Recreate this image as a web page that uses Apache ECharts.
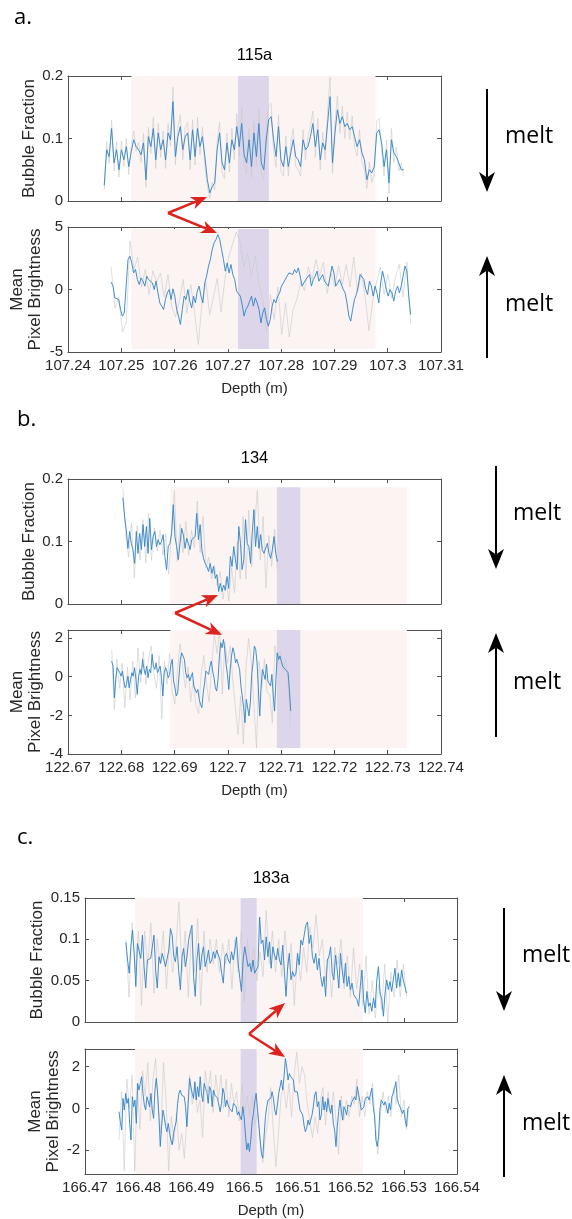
<!DOCTYPE html>
<html><head><meta charset="utf-8">
<script src="https://cdn.jsdelivr.net/npm/echarts@6/dist/echarts.min.js"></script>
<style>html,body{margin:0;padding:0;background:#fff}#c{width:572px;height:1219px}</style>
</head><body><div id="c"></div>
<script>
// ---------- tick labels ----------
const xTicksA = [107.24,107.25,107.26,107.27,107.28,107.29,107.30,107.31];
const xTicksB = [122.67,122.68,122.69,122.70,122.71,122.72,122.73,122.74];
const xTicksC = [166.47,166.48,166.49,166.50,166.51,166.52,166.53,166.54];
const yTicksBubbleAB = [0,0.1,0.2];
const yTicksBubbleC = [0,0.05,0.1,0.15];
const yTicksBrightA = [-5,0,5];
const yTicksBrightB = [-4,-2,0,2];
const yTicksBrightC = [-2,0,2];
const titles = ['115a','134','183a'];

// ---------- depth spans of the records (m) ----------
const spanBubbleA = [107.2468,107.3030];
const spanBrightA = [107.2481,107.3043];
const spanBubbleB = [122.6803,122.7093];
const spanBrightB = [122.6782,122.7118];
const spanBubbleC = [166.4777,166.5305];
const spanBrightC = [166.4764,166.5310];

// ---------- shaded depth intervals ----------
const pinkA = [107.2519,107.2977], purpleA = [107.2719,107.2777];
const pinkB = [122.6892,122.7336], purpleB = [122.7092,122.7136];
const pinkC = [166.4794,166.5223], purpleC = [166.4993,166.5023];

// ---------- 115a ----------
const bubbleA = [0.025,0.082,0.071,0.116,0.061,0.082,0.050,0.082,0.066,0.087,0.055,0.079,0.098,0.087,0.082,0.074,0.093,0.034,0.103,0.087,0.116,0.066,0.109,0.082,0.098,0.066,0.109,0.098,0.159,0.071,0.103,0.119,0.082,0.103,0.109,0.066,0.114,0.071,0.116,0.087,0.103,0.071,0.034,0.013,0.023,0.029,0.082,0.109,0.061,0.050,0.093,0.061,0.098,0.082,0.119,0.087,0.124,0.074,0.061,0.098,0.055,0.109,0.071,0.124,0.061,0.050,0.098,0.130,0.135,0.098,0.071,0.119,0.066,0.055,0.087,0.055,0.077,0.098,0.071,0.066,0.055,0.098,0.082,0.087,0.103,0.124,0.087,0.114,0.066,0.093,0.082,0.124,0.167,0.061,0.109,0.146,0.124,0.135,0.119,0.124,0.114,0.119,0.103,0.087,0.098,0.077,0.066,0.034,0.050,0.045,0.055,0.109,0.114,0.093,0.055,0.082,0.029,0.098,0.077,0.071,0.061,0.050,0.050];
const bubbleARaw = [0.018,0.095,0.060,0.130,0.048,0.095,0.038,0.096,0.055,0.100,0.042,0.090,0.112,0.080,0.094,0.062,0.108,0.022,0.118,0.076,0.134,0.052,0.124,0.070,0.112,0.052,0.124,0.088,0.182,0.058,0.117,0.138,0.066,0.118,0.126,0.050,0.130,0.058,0.134,0.074,0.118,0.056,0.024,0.004,0.030,0.018,0.096,0.126,0.046,0.036,0.108,0.046,0.116,0.066,0.140,0.072,0.150,0.058,0.044,0.116,0.036,0.128,0.056,0.148,0.042,0.034,0.114,0.152,0.156,0.080,0.054,0.138,0.048,0.040,0.104,0.040,0.094,0.116,0.056,0.050,0.040,0.114,0.066,0.104,0.120,0.144,0.070,0.132,0.050,0.110,0.066,0.144,0.198,0.044,0.126,0.168,0.108,0.152,0.100,0.142,0.098,0.136,0.086,0.072,0.114,0.062,0.050,0.020,0.062,0.030,0.042,0.128,0.132,0.078,0.040,0.098,0.012,0.116,0.062,0.086,0.048,0.060,0.040];
const brightA = [0.59,0.27,-0.67,-0.59,-0.80,-1.60,-2.13,-1.87,0.27,2.40,2.67,2.13,1.33,1.60,0.80,0.40,0.93,0.67,0.27,1.07,0.80,0.93,0.53,0.00,0.67,-0.27,-1.07,-1.33,-1.60,-0.80,-0.27,0.00,-0.80,0.05,-0.53,-1.60,-2.13,-2.80,-1.60,-0.53,-0.80,0.00,-0.93,-1.47,-0.53,-1.07,-0.13,0.27,-0.53,-1.07,0.53,1.07,1.87,2.40,3.20,3.73,4.00,4.40,4.00,3.20,2.40,1.47,2.13,1.33,2.00,1.20,0.80,-0.13,-0.27,-0.53,-1.20,-2.13,-1.60,-1.33,-0.93,-0.53,-1.33,-0.67,-1.07,-1.60,-2.67,-1.87,-1.47,-2.40,-2.93,-2.40,-1.33,-0.80,-1.07,-0.53,-0.27,0.27,0.53,0.67,1.07,1.33,1.47,1.20,1.60,1.33,1.73,1.07,0.27,0.40,0.80,0.67,1.20,0.27,0.80,1.07,1.47,0.67,0.93,1.20,0.67,0.80,0.27,1.07,1.87,1.33,0.27,0.53,0.80,0.67,0.00,-0.27,-1.07,-2.13,-2.53,-1.60,-0.80,-0.40,0.27,1.20,1.33,0.80,0.00,-0.40,0.67,0.27,-0.53,0.27,-0.27,-1.07,0.53,1.47,0.80,0.00,-0.53,0.00,-0.27,-0.93,-0.13,0.27,-0.27,0.27,1.07,1.87,1.47,-0.53,-2.00];
const brightARaw = [1.8,-1.5,-0.6,-3.4,-2.6,3.9,1.6,2.6,0.2,1.6,-0.4,1.5,0.6,1.3,-0.6,1.2,-1.4,-2.2,-0.9,0.8,-1.9,0.4,-1.8,-4.4,-0.9,0.6,-2.0,-0.6,0.9,-1.8,0.8,2.6,3.6,4.6,3.8,1.8,2.9,1.0,2.7,0.4,-0.9,-3.3,-0.4,-2.4,0.2,-3.6,-1.1,-3.8,-1.6,-0.8,0.6,-0.1,1.8,0.8,2.4,1.1,2.2,-0.3,1.3,0.2,1.9,0.4,2.0,0.2,2.6,-0.2,1.3,-0.6,-3.3,-0.9,0.6,1.8,-0.4,1.2,-0.7,1.0,2.0,-0.6,2.2,-2.8];

// ---------- 134 ----------
const bubbleB = [0.170,0.140,0.119,0.089,0.116,0.097,0.087,0.065,0.116,0.081,0.113,0.087,0.127,0.092,0.124,0.081,0.137,0.087,0.108,0.116,0.092,0.103,0.095,0.100,0.111,0.076,0.055,0.092,0.097,0.113,0.159,0.108,0.092,0.071,0.097,0.121,0.111,0.089,0.105,0.097,0.087,0.103,0.103,0.108,0.145,0.103,0.127,0.087,0.073,0.065,0.060,0.052,0.065,0.049,0.060,0.041,0.047,0.020,0.033,0.020,0.030,0.022,0.044,0.025,0.076,0.060,0.092,0.071,0.055,0.124,0.097,0.055,0.071,0.135,0.097,0.092,0.065,0.113,0.151,0.092,0.124,0.089,0.111,0.087,0.081,0.079,0.097,0.081,0.073,0.087,0.108,0.081,0.068];
const bubbleBRaw = [0.185,0.110,0.075,0.130,0.042,0.125,0.070,0.135,0.066,0.145,0.070,0.122,0.085,0.118,0.078,0.112,0.048,0.118,0.182,0.068,0.128,0.082,0.132,0.078,0.118,0.090,0.165,0.082,0.140,0.058,0.075,0.040,0.062,0.030,0.052,0.008,0.040,0.005,0.058,0.018,0.100,0.040,0.140,0.040,0.150,0.060,0.125,0.182,0.070,0.140,0.026,0.110,0.060,0.120,0.055];
const brightB = [0.81,0.55,-1.09,-0.14,0.47,0.38,0.21,0.03,0.29,-0.22,-0.57,-0.40,0.03,-0.57,-0.14,0.21,0.03,0.47,-0.14,-0.91,0.03,0.38,0.12,0.90,0.38,0.12,0.55,-0.05,0.38,0.21,1.16,0.55,0.38,0.72,0.21,0.38,0.55,-0.05,-1.00,0.21,0.47,0.29,-0.05,0.12,0.64,0.90,-0.22,-0.57,-1.00,-0.83,0.03,0.90,1.24,1.33,0.90,0.21,-0.05,0.12,-0.22,-0.31,0.21,-0.48,-0.40,-0.83,-0.66,-1.17,-1.43,-1.60,-0.83,-0.31,0.29,0.38,0.12,0.55,0.81,0.29,-0.05,-0.57,-0.74,-0.14,1.07,1.76,1.50,1.93,1.41,0.64,0.12,-0.66,0.38,1.07,1.50,1.24,0.72,0.90,0.98,0.38,-0.48,-1.00,-1.60,-2.38,-1.17,-1.17,-2.03,-1.34,0.12,0.72,1.59,1.41,0.72,-0.74,-2.03,-0.48,0.38,0.12,-0.14,0.64,-0.22,-0.31,-0.48,0.12,-1.00,-1.78,-0.14,1.24,0.90,1.07,0.81,0.55,0.64,0.38,0.38,0.21,-0.66,-1.78];
const brightBRaw = [1.4,-1.7,0.9,-0.6,0.7,-1.6,0.5,-1.2,0.8,-1.1,1.5,-0.3,1.3,-0.4,0.9,1.6,0.2,-0.6,1.1,-2.2,0.8,-0.4,1.2,-0.8,-1.4,0.4,1.7,0.5,-0.6,0.5,-1.3,-0.2,-1.5,-1.9,0.2,1.1,-0.4,-1.3,0.6,2.2,1.2,2.4,-0.9,1.8,0.7,1.6,-0.2,-1.6,-3.0,-1.0,-3.5,0.4,2.0,0.8,-1.4,-3.7,0.8,-0.6,0.9,-0.8,-0.9,-2.4,1.6,0.6,1.3,0.3,0.9,-0.2,-2.6];

// ---------- 183a ----------
const bubbleC = [0.096,0.075,0.059,0.091,0.111,0.083,0.043,0.095,0.097,0.077,0.105,0.067,0.041,0.075,0.077,0.077,0.091,0.105,0.063,0.041,0.079,0.071,0.083,0.075,0.067,0.077,0.087,0.113,0.105,0.079,0.073,0.091,0.061,0.039,0.079,0.089,0.067,0.079,0.099,0.109,0.117,0.055,0.031,0.075,0.095,0.063,0.081,0.091,0.067,0.075,0.087,0.071,0.075,0.085,0.077,0.087,0.081,0.075,0.059,0.047,0.079,0.083,0.075,0.071,0.085,0.075,0.087,0.103,0.071,0.053,0.037,0.075,0.091,0.079,0.067,0.071,0.061,0.075,0.059,0.057,0.067,0.127,0.095,0.099,0.075,0.103,0.079,0.097,0.065,0.091,0.081,0.075,0.089,0.075,0.069,0.093,0.061,0.031,0.067,0.083,0.051,0.061,0.055,0.059,0.083,0.069,0.099,0.093,0.095,0.117,0.121,0.095,0.105,0.079,0.071,0.083,0.063,0.077,0.055,0.043,0.055,0.031,0.075,0.079,0.091,0.059,0.051,0.081,0.063,0.041,0.083,0.063,0.047,0.071,0.043,0.055,0.039,0.047,0.033,0.035,0.027,0.019,0.043,0.063,0.027,0.011,0.037,0.019,0.023,0.013,0.029,0.017,0.051,0.067,0.035,0.027,0.007,0.035,0.051,0.039,0.049,0.037,0.051,0.065,0.041,0.059,0.043,0.063,0.051,0.051,0.035];
const bubbleCRaw = [0.10,0.03,0.12,0.06,0.11,0.02,0.11,0.07,0.12,0.035,0.10,0.07,0.11,0.04,0.10,0.06,0.09,0.145,0.06,0.11,0.03,0.11,0.06,0.125,0.02,0.11,0.06,0.10,0.07,0.10,0.06,0.095,0.07,0.10,0.04,0.10,0.06,0.11,0.025,0.10,0.06,0.09,0.05,0.085,0.055,0.135,0.07,0.11,0.06,0.10,0.055,0.11,0.065,0.095,0.02,0.08,0.05,0.09,0.06,0.115,0.09,0.13,0.08,0.10,0.05,0.08,0.03,0.09,0.07,0.10,0.04,0.08,0.03,0.09,0.04,0.07,0.02,0.08,0.01,0.05,0.005,0.045,0.015,0.07,0.0,0.06,0.03,0.075,0.03,0.07,0.03];
const brightC = [-0.16,-0.64,-1.04,0.48,-0.08,0.72,0.24,0.48,-0.72,-1.52,0.56,0.08,0.40,-0.72,1.20,0.88,1.20,1.52,0.72,0.16,-0.08,0.56,0.64,0.08,0.72,-0.08,-0.48,0.88,1.44,0.72,-0.40,-1.83,-0.88,-0.08,-0.40,-0.88,-1.12,-0.72,-1.20,-1.52,-1.75,-1.20,-0.88,-0.64,0.24,0.72,0.88,0.64,0.56,0.56,0.08,-0.88,0.24,1.44,1.04,0.72,0.48,1.28,0.40,1.04,0.56,1.52,0.64,0.32,1.20,0.96,0.80,0.24,1.04,0.88,0.08,0.88,0.64,0.64,0.48,0.16,-0.16,0.24,0.96,0.72,0.08,0.40,0.16,0.00,0.08,-0.16,0.24,0.32,0.08,-0.32,-0.16,-0.40,-0.56,0.08,-0.40,-1.28,-1.99,-1.67,-2.07,-1.52,-0.64,-0.24,0.32,0.72,0.00,-0.72,-1.52,-2.15,-2.39,-1.36,-0.40,0.08,0.40,0.32,0.48,0.80,0.48,-0.08,-0.32,0.16,0.72,1.04,1.36,0.88,1.52,2.39,1.99,1.36,1.67,1.52,1.59,1.36,0.80,0.72,0.80,0.32,-0.08,0.00,-0.32,-0.80,-1.12,-0.96,-0.56,-0.80,-0.72,-0.32,0.08,0.64,0.80,0.08,0.32,-0.56,-0.32,0.56,-0.08,0.32,-0.16,0.48,0.00,-0.24,0.16,-0.72,-1.04,-1.83,-0.88,-0.16,0.40,-0.08,-0.56,0.08,-0.08,-0.32,0.16,0.24,0.08,0.32,0.24,0.56,0.40,1.04,0.96,0.32,-0.08,-0.16,0.08,0.48,0.40,0.56,0.40,0.72,0.96,0.08,-0.40,-1.52,-1.83,-1.36,-0.08,0.40,0.48,0.16,0.32,0.08,-0.24,0.24,-0.08,0.56,0.72,0.96,1.28,0.48,0.24,0.08,0.16,-0.24,-0.08,-0.56,-0.88,0.00,0.08];
const brightCRaw = [-1.5,0.8,-3.0,1.4,0.0,1.6,-3.0,1.2,-1.0,1.8,0.6,2.2,-0.6,1.4,2.4,0.0,-1.2,2.2,0.4,-3.0,-0.4,-1.6,-0.2,-2.0,-1.2,-2.4,-0.4,1.6,0.2,1.2,-0.2,0.4,-1.4,1.8,0.8,1.8,-0.2,1.6,0.4,1.6,0.0,1.4,-0.4,1.2,0.2,0.8,-0.6,1.2,-0.2,0.6,-0.4,0.6,-0.8,-0.2,-1.6,-2.6,-1.4,-0.6,1.0,-1.0,-2.8,-1.2,0.6,1.0,0.0,1.2,-0.4,1.6,2.7,1.2,2.0,1.6,0.2,-0.6,-1.4,-0.4,-1.2,0.4,1.0,-0.8,0.8,-0.2,0.8,-0.6,-2.2,0.6,-0.6,0.4,-0.4,0.6,0.2,1.4,-0.4,0.6,-0.4,0.8,0.2,1.2,-0.6,-2.2,-0.4,0.8,-0.2,0.6,-0.4,1.0,0.2,1.6,-0.4,0.4,-1.0,0.2];

// ---------- layout ----------
const FONT = '"Liberation Sans", Arial, Helvetica, sans-serif';
const AX = '#505050', TXT = '#262626';
const PINK = '#fcf3f3', PURPLE = '#ddd6eb';
const BLUE = '#2f83c5', GRAY = '#c9c9c9';

const panels = [
  {grid:{left:68,top:76,width:373,height:125}, x:[107.24,107.31], xt:xTicksA, y:[0,0.2], yt:yTicksBubbleAB, name:'Bubble Fraction', gap:30, blue:bubbleA, raw:bubbleARaw, span:spanBubbleA, pink:pinkA, purple:purpleA, shadeY:[0,0.2], xl:false},
  {grid:{left:68,top:227,width:373,height:125}, x:[107.24,107.31], xt:xTicksA, y:[-5,5], yt:yTicksBrightA, name:'Mean\nPixel Brightness', gap:24, blue:brightA, raw:brightARaw, span:spanBrightA, pink:pinkA, purple:purpleA, shadeY:[-4.76,4.84], xl:true},
  {grid:{left:68,top:479,width:373,height:125}, x:[122.67,122.74], xt:xTicksB, y:[0,0.2], yt:yTicksBubbleAB, name:'Bubble Fraction', gap:30, blue:bubbleB, raw:bubbleBRaw, span:spanBubbleB, pink:pinkB, purple:purpleB, shadeY:[0,0.187], xl:false},
  {grid:{left:68,top:630,width:373,height:124}, x:[122.67,122.74], xt:xTicksB, y:[-4,2.42], yt:yTicksBrightB, name:'Mean\nPixel Brightness', gap:24, blue:brightB, raw:brightBRaw, span:spanBrightB, pink:pinkB, purple:purpleB, shadeY:[-3.69,2.42], xl:true},
  {grid:{left:85,top:898,width:372,height:124}, x:[166.47,166.54], xt:xTicksC, y:[0,0.15], yt:yTicksBubbleC, name:'Bubble Fraction', gap:39, blue:bubbleC, raw:bubbleCRaw, span:spanBubbleC, pink:pinkC, purple:purpleC, shadeY:[0,0.15], xl:false},
  {grid:{left:85,top:1049,width:372,height:125}, x:[166.47,166.54], xt:xTicksC, y:[-3.15,2.85], yt:yTicksBrightC, name:'Mean\nPixel Brightness', gap:23, blue:brightC, raw:brightCRaw, span:spanBrightC, pink:pinkC, purple:purpleC, shadeY:[-3.15,2.85], xl:true}
];

function toPairs(vals, span){
  const n = vals.length;
  return vals.map((v,i)=>[span[0] + (span[1]-span[0])*i/(n-1), v]);
}
const fmt = v => String(+(+v).toFixed(3));

function shadeItem(params, api){
  const p0 = api.coord([api.value(0), api.value(2)]);
  const p1 = api.coord([api.value(1), api.value(3)]);
  return {type:'rect', shape:{x:p0[0], y:p1[1], width:p1[0]-p0[0], height:p0[1]-p1[1]},
    style:{fill: api.value(4) === 1 ? PURPLE : PINK}};
}

const grids=[], xAxes=[], yAxes=[], series=[];
panels.forEach((p,i)=>{
  grids.push(Object.assign({containLabel:false}, p.grid));
  const line = {show:true, onZero:false, lineStyle:{color:AX, width:1}};
  const tick = (vals)=>({show:true, inside:true, length:4, lineStyle:{color:AX, width:1}, customValues:vals});
  xAxes.push({gridIndex:i, type:'value', min:p.x[0], max:p.x[1], position:'bottom',
    axisLine:line, axisTick:tick(p.xt), splitLine:{show:false},
    axisLabel:{show:p.xl, customValues:p.xt, formatter:fmt, margin:6, color:TXT, fontSize:15, fontFamily:FONT},
    name:p.xl?'Depth (m)':'', nameLocation:'middle', nameGap:29, nameMoveOverlap:false,
    nameTextStyle:{color:TXT, fontSize:15, fontFamily:FONT}});
  xAxes.push({gridIndex:i, type:'value', min:p.x[0], max:p.x[1], position:'top',
    axisLine:line, axisTick:tick(p.xt), splitLine:{show:false}, axisLabel:{show:false}});
  yAxes.push({gridIndex:i, type:'value', min:p.y[0], max:p.y[1], position:'left',
    axisLine:line, axisTick:tick(p.yt), splitLine:{show:false},
    axisLabel:{customValues:p.yt, formatter:fmt, margin:5, color:TXT, fontSize:15, fontFamily:FONT},
    name:p.name, nameLocation:'middle', nameRotate:90, nameGap:p.gap, nameMoveOverlap:false,
    nameTextStyle:{color:TXT, fontSize:17, lineHeight:18, fontFamily:FONT}});
  yAxes.push({gridIndex:i, type:'value', min:p.y[0], max:p.y[1], position:'right',
    axisLine:line, axisTick:tick(p.yt), splitLine:{show:false}, axisLabel:{show:false}});
  const xi = 2*i, yi = 2*i;
  series.push({type:'custom', xAxisIndex:xi, yAxisIndex:yi, z:1, silent:true, clip:false,
    renderItem:shadeItem, encode:{x:[0,1], y:[2,3]},
    data:[[p.pink[0],p.pink[1],p.shadeY[0],p.shadeY[1],0],[p.purple[0],p.purple[1],p.shadeY[0],p.shadeY[1],1]]});
  series.push({type:'line', xAxisIndex:xi, yAxisIndex:yi, data:toPairs(p.raw,p.span), z:2, silent:true,
    showSymbol:false, lineStyle:{color:GRAY, width:0.7, opacity:0.85}});
  series.push({type:'line', xAxisIndex:xi, yAxisIndex:yi, data:toPairs(p.blue,p.span), z:3, silent:true,
    showSymbol:false, lineStyle:{color:BLUE, width:0.9}});
});

// ---------- annotations ----------
function arrow(x1,y1,x2,y2,color,lw,hl,hw){
  const dx=x2-x1, dy=y2-y1, L=Math.hypot(dx,dy), ux=dx/L, uy=dy/L, px=-uy, py=ux;
  const bx=x2-ux*hl, by=y2-uy*hl, nx=x2-ux*hl*0.72, ny=y2-uy*hl*0.72;
  return [
    {type:'line', z:100, shape:{x1:x1,y1:y1,x2:nx,y2:ny}, style:{stroke:color, lineWidth:lw}},
    {type:'polygon', z:100, shape:{points:[[x2,y2],[bx+px*hw/2,by+py*hw/2],[nx,ny],[bx-px*hw/2,by-py*hw/2]]}, style:{fill:color}}
  ];
}
const RED='#dc231e';
const redArrows = [
  [[168,213],[207,197],[217,233]],
  [[175,613],[218,595],[222,635]],
  [[249,1034],[285,1003],[285,1057]]
];
const meltArrows = [
  {x:487, down:[89,192], up:[358,256], tx:505},
  {x:496, down:[466,569], up:[737,633], tx:513},
  {x:504, down:[908,1011], up:[1177,1075], tx:522}
];
const graphic = [];
const txt = (x,y,s,font,align)=>({type:'text', z:100, x:x, y:y, style:{text:s, font:font, fill:'#000', align:align||'left', verticalAlign:'middle'}});
graphic.push(txt(254.5,55,titles[0],'16.5px '+FONT,'center'));
graphic.push(txt(254.5,458,titles[1],'16.5px '+FONT,'center'));
graphic.push(txt(271,878,titles[2],'16.5px '+FONT,'center'));
graphic.push(txt(14,18,'a.','22px "Open Sans"'));
graphic.push(txt(17,420,'b.','22px "Open Sans"'));
graphic.push(txt(17,838,'c.','22px "Open Sans"'));
redArrows.forEach(r=>{
  graphic.push(...arrow(r[0][0],r[0][1],r[1][0],r[1][1],RED,2.5,16,13));
  graphic.push(...arrow(r[0][0],r[0][1],r[2][0],r[2][1],RED,2.5,16,13));
});
meltArrows.forEach(m=>{
  graphic.push(...arrow(m.x,m.down[0],m.x,m.down[1],'#000',2,20,16));
  graphic.push(...arrow(m.x,m.up[0],m.x,m.up[1],'#000',2,20,16));
  graphic.push(txt(m.tx,(m.down[0]+m.down[1])/2-4,'melt','23px "Open Sans"'));
  graphic.push(txt(m.tx,(m.up[0]+m.up[1])/2-3,'melt','23px "Open Sans"'));
});

const chart = echarts.init(document.getElementById('c'), null, {renderer:'canvas'});
chart.setOption({
  animation:false,
  backgroundColor:'#fff',
  grid:grids, xAxis:xAxes, yAxis:yAxes, series:series,
  graphic:{elements:graphic}
});
</script></body></html>
